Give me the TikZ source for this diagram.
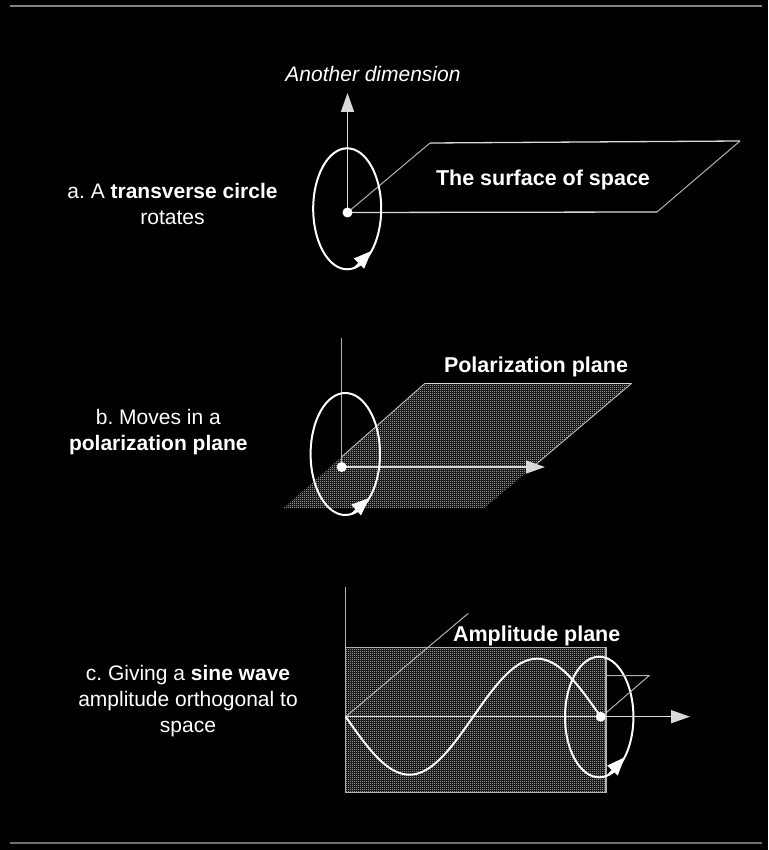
\documentclass[tikz,border=0pt]{standalone}
\usepackage{fontspec}
\setmainfont{Liberation Sans}
\usetikzlibrary{calc, arrows.meta, patterns}
\pgfdeclarepatternformonly{stipple}{\pgfqpoint{0pt}{0pt}}{\pgfqpoint{2pt}{2pt}}{\pgfqpoint{2pt}{2pt}}{%
    \pgfpathrectangle{\pgfqpoint{0pt}{0pt}}{\pgfqpoint{1pt}{1pt}}%
    \pgfpathrectangle{\pgfqpoint{1pt}{1pt}}{\pgfqpoint{1pt}{1pt}}%
    \pgfusepath{fill}%
}
\frenchspacing
\tikzset{
    txt/.style={text=white, font=\fontsize{21}{26}\selectfont, align=center, inner sep=0pt},
    lbl/.style={text=white, font=\fontsize{21.5}{26}\selectfont\bfseries, inner sep=0pt},
    axis/.style={draw=white!85!black, line width=1.5pt},
    edge/.style={draw=white!70!black, line width=1pt},
    loop/.style={draw=white, line width=2pt},
    tip/.style={-{Triangle[length=19pt,width=13pt]}},
    smalltip/.style={-{Triangle[length=18pt,width=14pt]}},
    plane/.style={pattern=stipple, pattern color=white!85!black},
}

\begin{document}
\begin{tikzpicture}[x=1pt,y=-1pt]
            \fill[black] (0,0) rectangle (768,850);
            \draw[draw=white!50!black, line width=1.7pt] (10,6)--(762,6);
            \draw[draw=white!44!black, line width=1.7pt] (10,843)--(762,843);
            % a
            \coordinate (oa) at (347.5,212.5);
            \coordinate (ca) at (347.2,208.8);
            \coordinate (ua) at (347.5,93);
            \coordinate (sa1) at (430,143);
            \coordinate (sa2) at (740,141);
            \coordinate (sa3) at (657,212);
            \coordinate (ma) at ($(ca)+(77:34 and 60.5)$);
            \coordinate (ta) at ($(ca)+(44:34 and 60.5)$);
            \node[txt] (texta) at (172.5,203.5) {a. A \textbf{transverse circle}\\rotates};
            \node[txt] (dimension) at (373,74) {\itshape Another dimension};
            \node[lbl] (surface) at (543,180) {The surface of space};
            \draw[axis, tip] (oa)--(ua);
            \draw[edge] (oa)--(sa1);
            \draw[axis, line width=1.3pt] (sa1)--(sa2);
            \draw[edge] (sa2)--(sa3);
            \draw[axis, line width=1.3pt] (sa3)--(oa);
            \draw[loop] (ca) ellipse[x radius=34, y radius=60.5];
            \draw[loop, smalltip] (ma)--(ta);
            \fill[white] (oa) circle[radius=5];
            % b
            \coordinate (ob) at (341.7,467);
            \coordinate (cb) at (345.3,454);
            \coordinate (ub) at (341.7,338);
            \coordinate (pb1) at (283.3,508.3);
            \coordinate (pb2) at (484,508.3);
            \coordinate (pb3) at (631.7,383.3);
            \coordinate (pb4) at (425,383.3);
            \coordinate (rb) at (545,467);
            \coordinate (mb) at ($(cb)+(79:34.7 and 61)$);
            \coordinate (tb) at ($(cb)+(46:34.7 and 61)$);
            \node[txt] (textb) at (158.3,431.7) {b. Moves in a\\\textbf{polarization plane}};
            \node[lbl] (polarization) at (536,367) {Polarization plane};
            \path[plane] (pb1)--(pb2)--(pb3)--(pb4)--cycle;
            \draw[edge] (ob)--(ub);
            \draw[axis, line width=1.3pt] (pb4)--(pb3);
            \draw[edge] (pb3)--($(pb3)!0.65!(pb2)$);
            \draw[edge] (pb4)--($(pb4)!0.59!(pb1)$);
            \draw[axis, tip] (ob)--(rb);
            \draw[loop] (cb) ellipse[x radius=34.7, y radius=61];
            \draw[loop, smalltip] (mb)--(tb);
            \fill[white] (ob) circle[radius=5];
            % c
            \coordinate (oc) at (345.7,716.7);
            \coordinate (cc) at (599.2,717);
            \coordinate (uc) at (345.7,586.7);
            \coordinate (dc) at (468.3,613.3);
            \coordinate (rc) at (690,716.7);
            \coordinate (ec) at (600.7,716.7);
            \coordinate (qc1) at (606,675.7);
            \coordinate (qc2) at (649,675.7);
            \coordinate (qc3) at (606.7,712.3);
            \coordinate (mc) at ($(cc)+(75:34.2 and 60.3)$);
            \coordinate (tc) at ($(cc)+(42:34.2 and 60.3)$);
            \node[txt] (textc) at (188,700.7) {c. Giving a \textbf{sine wave}\\amplitude orthogonal to\\space};
            \node[lbl] (amplitude) at (536.7,635.5) {Amplitude plane};
            \path[plane] (345.7,647.7) rectangle (606,792.7);
            \draw[edge, line width=1.5pt] (345.7,647.7) rectangle (606,792.7);
            \draw[edge] (uc)--(345.7,647.7);
            \draw[edge] (oc)--(dc);
            \draw[axis, tip] (oc)--(rc);
            \draw[loop] plot[domain=0:255, samples=90, smooth] ({345.7+\x},{716.7+58*sin(\x*1.41176)});
            \draw[loop] (cc) ellipse[x radius=34.2, y radius=60.3];
            \draw[loop, smalltip] (mc)--(tc);
            \draw[edge] (qc1)--(qc2)--(qc3);
            \fill[white] (ec) circle[radius=5];
\end{tikzpicture}
\end{document}
